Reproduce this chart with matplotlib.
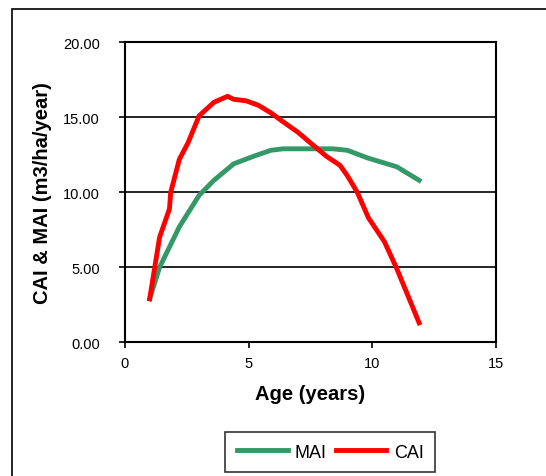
import matplotlib
matplotlib.use("Agg")
import matplotlib.pyplot as plt
from matplotlib.patches import Rectangle

plt.rcParams['font.family'] = ['Liberation Sans', 'DejaVu Sans']

# data
mai_age = [1.0, 1.4, 2.2, 3.0, 3.6, 4.4, 5.2, 5.9, 6.4, 8.4, 9.0, 9.8, 11.0, 11.9]
mai = [2.9, 5.0, 7.7, 9.8, 10.8, 11.9, 12.4, 12.8, 12.9, 12.9, 12.8, 12.3, 11.7, 10.8]

cai_age = [1.0, 1.4, 1.8, 1.85, 2.2, 2.55, 3.0, 3.6, 4.15, 4.4, 4.9, 5.4, 5.9,
           6.4, 7.0, 7.5, 8.15, 8.7, 9.0, 9.4, 9.85, 10.5, 11.0, 11.9]
cai = [2.9, 7.0, 8.9, 10.0, 12.2, 13.3, 15.1, 16.0, 16.4, 16.2, 16.1, 15.8, 15.3,
       14.7, 14.0, 13.3, 12.4, 11.8, 11.1, 10.0, 8.3, 6.7, 4.9, 1.3]

yticks = [0, 5, 10, 15, 20]
xticks = [0, 5, 10, 15]

fig = plt.figure(figsize=(5.46, 4.77), dpi=100)
fig.patches.append(Rectangle((12 / 546, -0.1), 1.2, 1 - 10 / 477 + 0.1,
                             transform=fig.transFigure, fill=False,
                             edgecolor='black', linewidth=1.2))

ax = fig.add_axes([0.2289, 0.2803, 0.9079 - 0.2289, 0.9092 - 0.2803])
ax.plot(mai_age, mai, color='#339966', linewidth=3.5, label='MAI')
ax.plot(cai_age, cai, color='#ff0000', linewidth=3.5, label='CAI')

ax.set_xlim(0, 15)
ax.set_ylim(0, 20)
ax.set_xticks(xticks)
ax.set_yticks(yticks)
ax.set_yticklabels(['%.2f' % v for v in yticks])
ax.tick_params(labelsize=10.5, length=4, width=1.2, direction='out')
ax.tick_params(axis='y', pad=14)
ax.tick_params(axis='x', pad=6)
ax.yaxis.grid(True, color='black', linewidth=1.2)
ax.set_axisbelow(True)
for s in ax.spines.values():
    s.set_linewidth(1.5)

ax.set_xlabel('Age (years)', fontsize=14.5, fontweight='bold', labelpad=10)
ax.set_ylabel('CAI & MAI (m3/ha/year)', fontsize=14.5, fontweight='bold', labelpad=8)

leg = ax.legend(loc='center', bbox_to_anchor=(0.605, 0.05),
                bbox_transform=fig.transFigure, ncol=2, fontsize=13,
                frameon=True, fancybox=False, handlelength=2.8,
                columnspacing=0.5, handletextpad=0.4, borderpad=0.65,
                borderaxespad=0)
leg.get_frame().set_edgecolor('black')
leg.get_frame().set_linewidth(1.2)

fig.savefig('out.png', dpi=100)
